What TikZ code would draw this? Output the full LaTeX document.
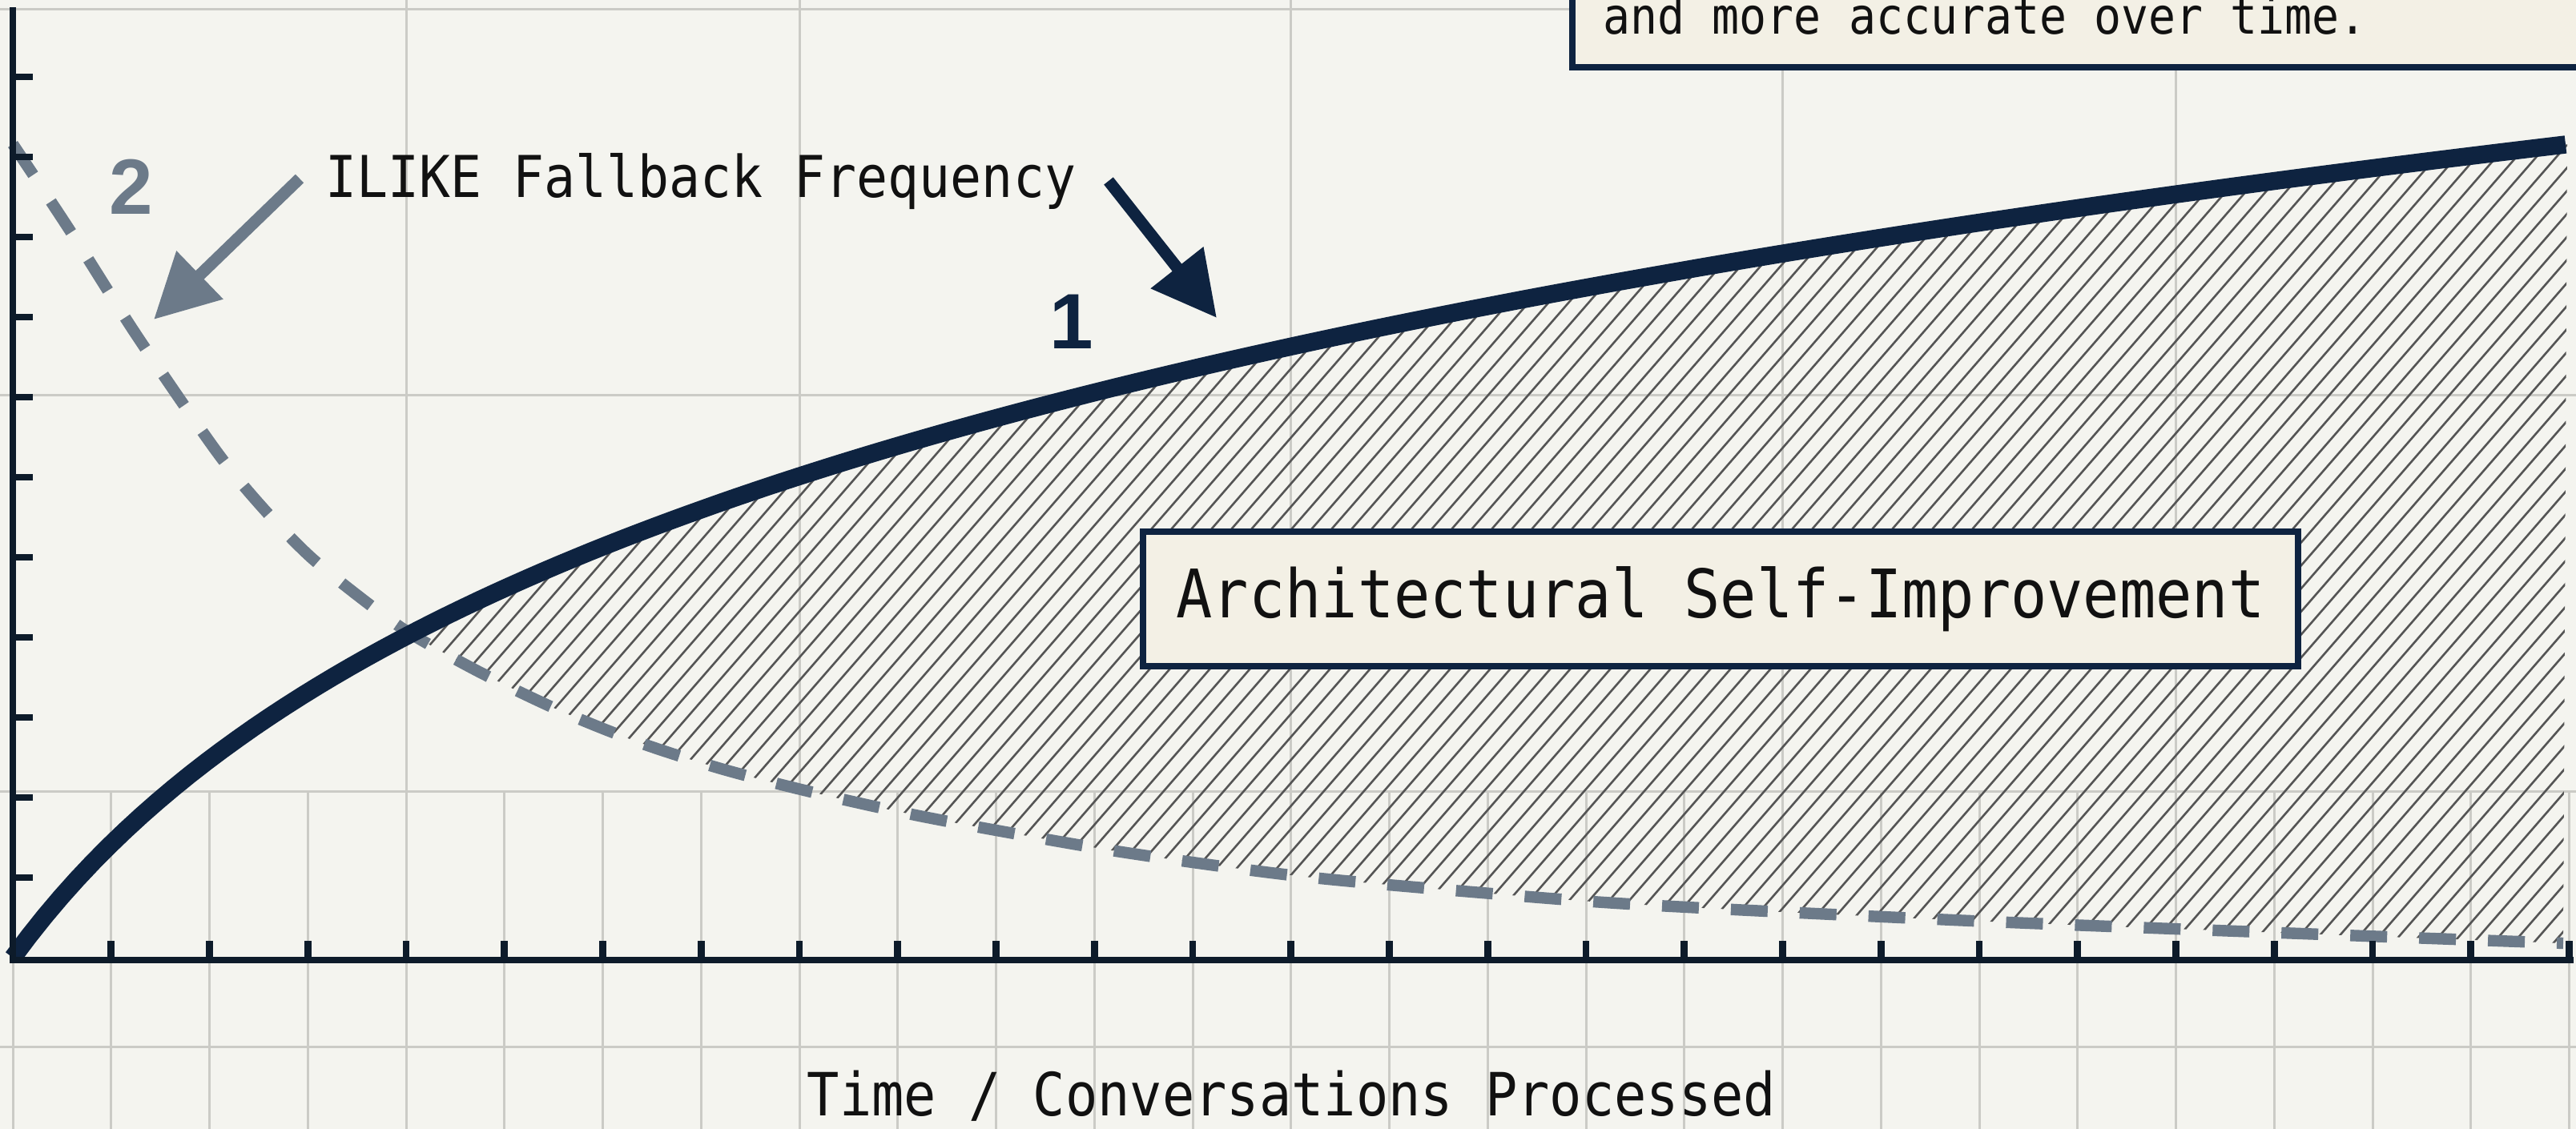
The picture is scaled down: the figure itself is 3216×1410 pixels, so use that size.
\documentclass[tikz,border=0pt]{standalone}
\usepackage{fontspec}
\usetikzlibrary{arrows.meta}
\newfontfamily\monof[FakeStretch=0.9]{DejaVu Sans Mono}
\newfontfamily\numf{Liberation Sans}
\definecolor{bgc}{HTML}{F4F4EF}
\definecolor{gridc}{HTML}{CBCBC6}
\definecolor{navy}{HTML}{0E2340}
\definecolor{axisc}{HTML}{0D1B2A}
\definecolor{slate}{HTML}{6C7A89}
\definecolor{hatchc}{HTML}{555555}
\definecolor{cream}{HTML}{F3F0E5}
\definecolor{txt}{HTML}{111111}
\tikzset{
  gridln/.style={draw=gridc, line width=0.75pt},
  axisln/.style={draw=axisc, line width=2.2pt, line cap=rect, line join=miter},
  tickln/.style={draw=axisc, line width=2.2pt},
  solidcurve/.style={draw=navy, line width=5.6pt},
  dashcurve/.style={draw=slate, line width=3.6pt, dash pattern=on 11.5pt off 10pt},
  hatchln/.style={draw=hatchc, line width=0.65pt},
  labelbox/.style={draw=navy, line width=1.8pt, fill=cream, inner sep=0pt},
  monotext/.style={text=txt, inner sep=0pt},
  bigarrow/.style={line width=3.7pt, -{Triangle[length=20pt,width=20pt]}},
}
\begin{document}
\begin{tikzpicture}[x=0.25pt,y=-0.25pt]
\useasboundingbox (0,0) rectangle (3216,1410);
\fill[bgc] (0,0) rectangle (3216,1410);
% grid
\draw[gridln] (0,12) -- (1963,12);
\draw[gridln] (0,494) -- (3216,494);
\draw[gridln] (0,989) -- (3216,989);
\draw[gridln] (0,1308) -- (3216,1308);
\foreach \k in {4,8,13,18,22} \draw[gridln] ({16+122.75*\k},0) -- ({16+122.75*\k},1410);
\foreach \k in {0,...,26} \draw[gridln] ({16+122.75*\k},989) -- ({16+122.75*\k},1410);
% hatch region
\begin{scope}
  \clip (512,0) rectangle (3205,1410);
  \clip plot[domain=16:3205, samples=160] (\x,{1196-414*ln(1+(\x-16)/300)})
    -- plot[smooth] coordinates {(3200,1178) (2900,1167) (2461,1150) (2051,1130) (1850,1115) (1620,1094) (1400,1064) (1200,1029) (1100,1009) (1000,986) (900,960) (800,928) (700,888) (600,840) (512,791) (456,751) (387,695) (326,632) (269,562) (170,418) (90,292) (16,180)} -- cycle;
  \foreach \c in {-600,-575,...,3225} \draw[hatchln] (\c,1250) -- ({\c+1087},0);
\end{scope}
% dashed curve
\draw[dashcurve] plot[smooth] coordinates {(16,180) (90,292) (170,418) (269,562) (326,632) (387,695) (456,751) (512,791) (600,840) (700,888) (800,928) (900,960) (1000,986) (1100,1009) (1200,1029) (1400,1064) (1620,1094) (1850,1115) (2051,1130) (2461,1150) (2900,1167) (3200,1178)};
% solid curve
\draw[solidcurve] plot[domain=16:3203, samples=160] (\x,{1196-414*ln(1+(\x-16)/300)});
% axes
\draw[axisln] (16,13) -- (16,1199) -- (3209,1199);
\foreach \k in {1,...,26} \draw[tickln] ({16+122.75*\k},1199) -- ++(0,-24);
\foreach \k in {1,...,11} \draw[tickln] (16,{1196-100*\k}) -- ++(25,0);
% top right box
\draw[labelbox] (1963,-40) rectangle (3260,84);
\node[monotext, anchor=base west, font=\monof\fontsize{15.7pt}{18pt}\selectfont] (note) at (2001,43) {and more accurate over time.};
% labels
\node[monotext, anchor=base west, font=\monof\fontsize{18pt}{20pt}\selectfont] (lbl) at (406,247) {ILIKE Fallback Frequency};
\node[text=slate, inner sep=0pt, font=\numf\bfseries\fontsize{24.5pt}{26pt}\selectfont] (two) at (164,233) {2};
\node[text=navy, inner sep=0pt, font=\numf\bfseries\fontsize{24.5pt}{26pt}\selectfont] (one) at (1338,402) {1};
\coordinate (a2s) at (374,223);
\coordinate (a2e) at (192,399);
\coordinate (a1s) at (1384,226);
\coordinate (a1e) at (1519,397);
\draw[bigarrow, draw=slate, fill=slate] (a2s) -- (a2e);
\draw[bigarrow, draw=navy, fill=navy] (a1s) -- (a1e);
% central box
\node[labelbox, minimum width=360.5pt, minimum height=42pt] (asi) at (2148,748) {};
\node[monotext, font=\monof\fontsize{20.9pt}{24pt}\selectfont] (asitext) at (asi.center) {Architectural Self-Improvement};
% axis label
\node[monotext, anchor=base west, font=\monof\fontsize{18.6pt}{21pt}\selectfont] (xlabel) at (1007,1394) {Time / Conversations Processed};
\end{tikzpicture}
\end{document}
